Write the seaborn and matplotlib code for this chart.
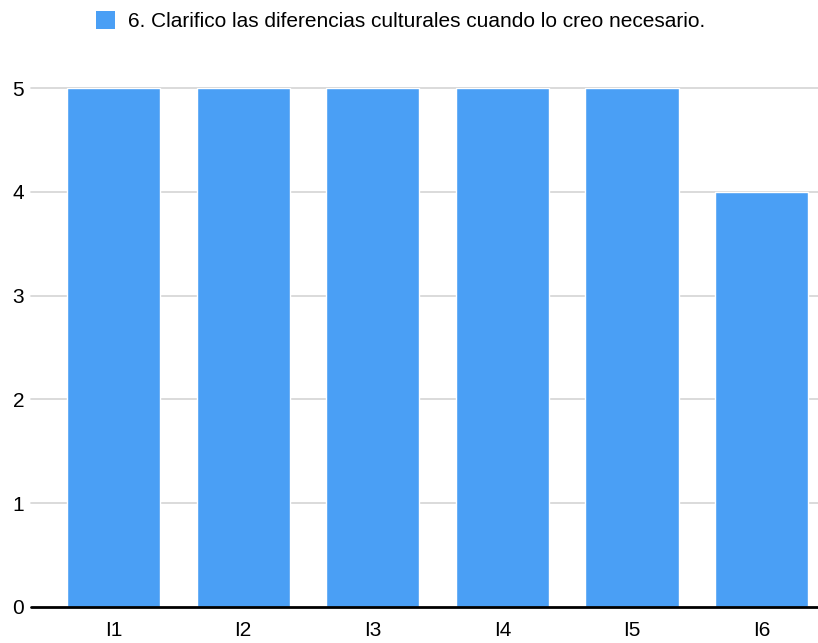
import matplotlib
matplotlib.use("Agg")
import matplotlib.pyplot as plt
import seaborn as sns
import pandas as pd
from matplotlib.patches import Patch

categories = ["I1", "I2", "I3", "I4", "I5", "I6"]
values = [5, 5, 5, 5, 5, 4]
series_name = "6. Clarifico las diferencias culturales cuando lo creo necesario."
y_ticks = [0, 1, 2, 3, 4, 5]

bar_color = "#4A9FF5"

sns.set_theme(style="white")
plt.rcParams["font.family"] = ["Liberation Sans", "DejaVu Sans"]
plt.rcParams["text.color"] = "black"

df = pd.DataFrame({"item": categories, "score": values})

fig = plt.figure(figsize=(8.18, 6.43), dpi=100)
W, H = 818, 643
ax = fig.add_axes([31 / W, (643 - 607) / H, (818 - 31) / W, (607 - 88) / H])

sns.barplot(data=df, x="item", y="score", color=bar_color, width=0.72,
            saturation=1, ax=ax, zorder=3)

ax.set_xlim(-0.637, 5.435)
ax.set_ylim(0, 5)
ax.set_yticks(y_ticks)
for t in y_ticks[1:]:
    ax.axhline(t, color="#d4d4d4", lw=1.2, zorder=1, clip_on=False)
ax.axhline(0, color="black", lw=2, zorder=4, clip_on=False)

for s in ax.spines.values():
    s.set_visible(False)

ax.set_xlabel("")
ax.set_ylabel("")
ax.tick_params(axis="both", length=0, labelsize=15, colors="black")
ax.tick_params(axis="y", pad=5)
ax.tick_params(axis="x", pad=10)
for lab in ax.get_yticklabels():
    lab.set_horizontalalignment("right")

handle = Patch(facecolor=bar_color, edgecolor="none")
fig.legend([handle], [series_name], loc="center left",
           bbox_to_anchor=(96 / W, 1 - 21 / H), frameon=False,
           borderpad=0, borderaxespad=0, labelcolor="black",
           fontsize=15, handlelength=0.92, handleheight=0.92,
           handletextpad=0.62)

fig.savefig("out.png", dpi=100)
